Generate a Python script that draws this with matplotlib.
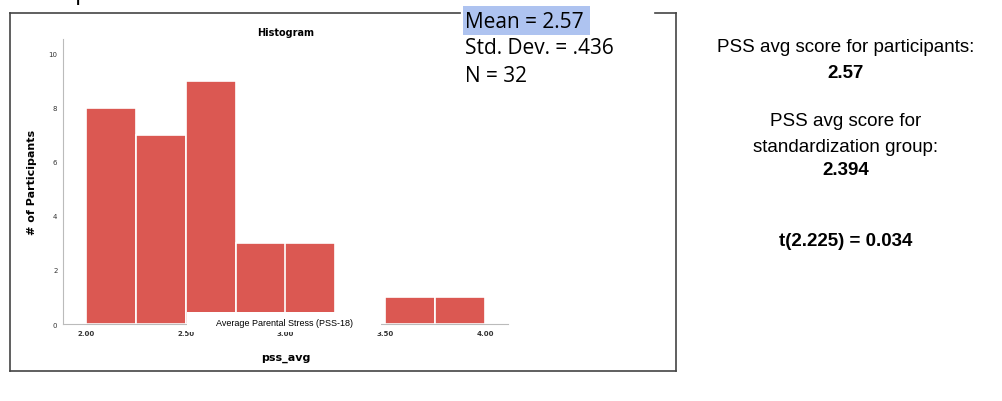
import matplotlib
matplotlib.use("Agg")
import matplotlib.pyplot as plt
from matplotlib.patches import Rectangle
from matplotlib.lines import Line2D

bin_edges = [2.00, 2.25, 2.50, 2.75, 3.00, 3.25, 3.50, 3.75, 4.00]
counts = [8, 7, 9, 3, 3, 0, 1, 1]
yticks = [0, 2, 4, 6, 8, 10]
xticks = [2.00, 2.50, 3.00, 3.50, 4.00]
xticklabels = ["2.00", "2.50", "3.00", "3.50", "4.00"]
stats = ["Mean = 2.57", "Std. Dev. = .436", "N = 32"]

W, H = 1002, 402
fig = plt.figure(figsize=(W/100, H/100), dpi=100)
fig.patch.set_facecolor("white")
def fx(px): return px / W
def fy(py): return 1 - py / H

ax = fig.add_axes([fx(63), fy(325), fx(508) - fx(63), fy(40) - fy(325)])
ax.set_xlim(1.885, 4.115)
ax.set_ylim(0, 10.55)
ax.bar(bin_edges[:-1], counts, width=0.25, align="edge", color="#db5852",
       edgecolor="white", linewidth=1.2, zorder=2)
for s in ["top", "right"]:
    ax.spines[s].set_visible(False)
for s in ["left", "bottom"]:
    ax.spines[s].set_color("#bbbbbb")
ax.set_yticks(yticks)
ax.set_yticklabels([str(t) for t in yticks], fontsize=5, color="#333333")
ax.set_xticks(xticks)
ax.set_xticklabels(xticklabels, fontsize=5, color="#333333", fontweight="bold")
ax.tick_params(length=0, pad=4)
ax.set_ylabel("# of Participants", fontsize=8, fontweight="bold", labelpad=8)
ax.set_xlabel("pss_avg", fontsize=8, fontweight="bold", labelpad=12)
ax.set_title("Histogram", fontsize=7, fontweight="bold", pad=3)

fig.patches.append(Rectangle((fx(187), fy(333)), fx(381) - fx(187), fy(313) - fy(333),
                             transform=fig.transFigure, facecolor="white", edgecolor="none", zorder=5))
fig.text(fx(284), fy(324), "Average Parental Stress (PSS-18)", fontsize=6.5,
         ha="center", va="center", family="Liberation Sans", zorder=6)

lc = "#444444"
for (x0, y0, x1, y1) in [(10, 14, 460, 14), (655, 14, 676, 14), (10, 14, 10, 372),
                         (10, 372, 676, 372), (676, 14, 676, 372)]:
    fig.lines.append(Line2D([fx(x0), fx(x1)], [fy(y0), fy(y1)], transform=fig.transFigure,
                            color=lc, linewidth=1.2))

fig.patches.append(Rectangle((fx(463), fy(36)), fx(590) - fx(463), fy(7) - fy(36),
                             transform=fig.transFigure, facecolor="#aec3f0", edgecolor="none"))
for i, s in enumerate(stats):
    fig.text(fx(465), fy(22 + 27 * i), s, fontsize=15, ha="left", va="center",
             family="Open Sans")

fig.text(fx(28), fy(-6), "Sample:", fontsize=17, ha="left", va="center", family="Liberation Sans")

cx = fx(846)
fs = 13.5
fig.text(cx, fy(47), "PSS avg score for participants:", fontsize=fs, ha="center", va="center", family="Liberation Sans")
fig.text(cx, fy(73), "2.57", fontsize=fs, ha="center", va="center", fontweight="bold", family="Liberation Sans")
fig.text(cx, fy(122), "PSS avg score for", fontsize=fs, ha="center", va="center", family="Liberation Sans")
fig.text(cx, fy(147), "standardization group:", fontsize=fs, ha="center", va="center", family="Liberation Sans")
fig.text(cx, fy(171), "2.394", fontsize=fs, ha="center", va="center", fontweight="bold", family="Liberation Sans")
fig.text(cx, fy(242), "t(2.225) = 0.034", fontsize=fs, ha="center", va="center", fontweight="bold", family="Liberation Sans")

fig.savefig("out.png", dpi=100)
